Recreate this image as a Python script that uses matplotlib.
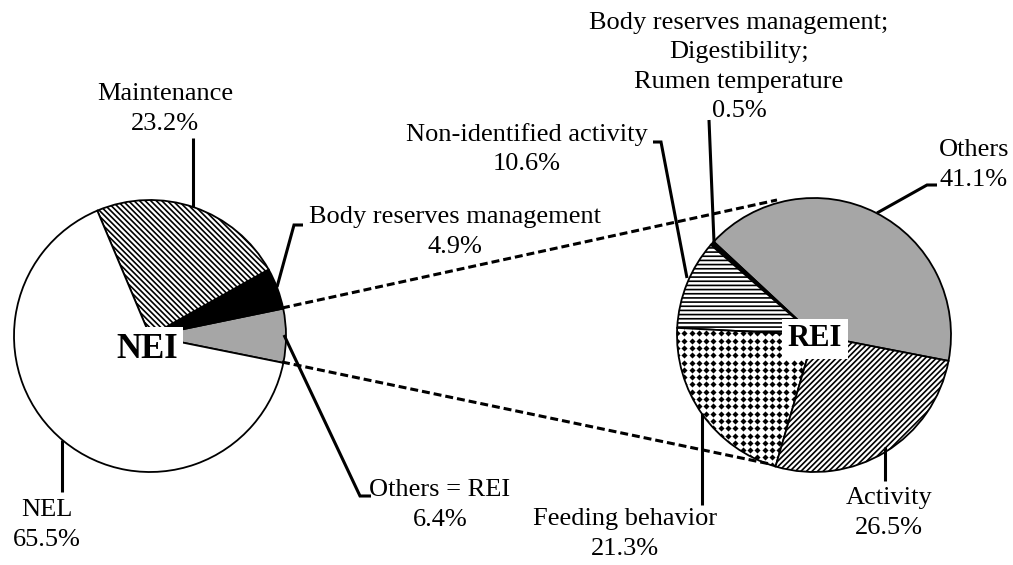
import numpy as np
import matplotlib
matplotlib.use("Agg")
import matplotlib.pyplot as plt

plt.rcParams['font.family'] = ['Liberation Serif', 'DejaVu Serif']
plt.rcParams['hatch.linewidth'] = 1.2

# ---- data -------------------------------------------------------------
nei_labels = ["Others = REI", "Body reserves management", "Maintenance", "NEL"]
nei_values = [6.4, 4.9, 23.2, 65.5]

rei_labels = ["Others",
              "Body reserves management;\nDigestibility;\nRumen temperature",
              "Non-identified activity", "Feeding behavior", "Activity"]
rei_values = [41.1, 0.5, 10.6, 21.3, 26.5]

# ---- styles -----------------------------------------------------------
GREY = '#a6a6a6'
nei_face = [GREY, 'black', 'white', 'white']
nei_hatch = [None, None, '\\' * 6, None]
rei_face = [GREY, 'black', 'white', 'white', 'white']
rei_hatch = [None, None, '----', None, '//////']

W, H = 1013, 565
fig = plt.figure(figsize=(W / 100, H / 100), dpi=100)
ax = fig.add_axes([0, 0, 1, 1])


def P(x, y):
    """Canvas position measured from the top-left corner."""
    return (x, H - y)


left_c, left_r = P(150, 336), 136
right_c, right_r = P(814, 335), 137

wedge_kw = dict(edgecolor='black', linewidth=1.3)
wl, _ = ax.pie(nei_values, center=left_c, radius=left_r, startangle=-11.4,
               counterclock=True, frame=True, wedgeprops=wedge_kw)
wr, _ = ax.pie(rei_values, center=right_c, radius=right_r, startangle=-10.9,
               counterclock=True, frame=True, wedgeprops=wedge_kw)

for w, fc, h in zip(wl, nei_face, nei_hatch):
    w.set_facecolor(fc)
    if h:
        w.set_hatch(h)
for w, fc, h in zip(wr, rei_face, rei_hatch):
    w.set_facecolor(fc)
    if h:
        w.set_hatch(h)

# diamond-dot texture for the feeding behaviour wedge
feed = wr[3]
cx, cy = right_c
step = 7.3
gx, gy = np.meshgrid(np.arange(cx - right_r, cx + right_r, step),
                     np.arange(cy - right_r, cy + right_r, step))
dots, = ax.plot(gx.ravel(), gy.ravel(), 'D', ms=3.1, color='black', mew=0,
                zorder=1.5)
dots.set_clip_path(feed)

# ---- connecting dashed lines -------------------------------------------
dash_kw = dict(color='black', lw=2.2, linestyle=(0, (2.6, 1.3)), zorder=3)
for (x0, y0), (x1, y1) in [((282, 308), (777, 200)), ((282, 362), (770, 464))]:
    a, b = P(x0, y0), P(x1, y1)
    ax.plot([a[0], b[0]], [a[1], b[1]], **dash_kw)

# ---- leader lines --------------------------------------------------------
leaders = [
    [(193, 138), (193, 207)],
    [(303, 225), (294, 225), (277, 287)],
    [(284, 335), (360, 496), (371, 496)],
    [(62, 440), (62, 492)],
    [(653, 142), (661, 142), (687, 278)],
    [(709, 120), (714, 242)],
    [(877, 213), (927, 185), (937, 185)],
    [(885, 447), (885, 481)],
    [(702, 413), (702, 505)],
]
for pts in leaders:
    xy = np.array([P(x, y) for x, y in pts])
    ax.plot(xy[:, 0], xy[:, 1], color='black', lw=2.2, solid_capstyle='butt',
            solid_joinstyle='miter', zorder=4)

# ---- labels --------------------------------------------------------------
lab_kw = dict(fontsize=19, ha='center', va='center', multialignment='center',
              linespacing=1.42, zorder=5)


def pct(v):
    return f"{v:.1f}%"


nei_pos = [(440, 505), (455, 232), (165, 109), (47, 525)]
for name, v, (x, y) in zip(nei_labels, nei_values, nei_pos):
    ax.text(*P(x, y), f"{name}\n{pct(v)}", **lab_kw)

rei_pos = [(974, 165), (739, 67), (527, 149), (625, 534), (889, 513)]
for name, v, (x, y) in zip(rei_labels, rei_values, rei_pos):
    ax.text(*P(x, y), f"{name}\n{pct(v)}", **lab_kw)

box = dict(facecolor='white', edgecolor='none', pad=4)
ax.text(*P(147, 349), "NEI", fontsize=25, fontweight='bold', ha='center',
        va='center', bbox=box, zorder=6)
ax.text(*P(815, 339), "REI", fontsize=22, fontweight='bold', ha='center',
        va='center', bbox=box, zorder=6)

ax.set_xlim(0, W)
ax.set_ylim(0, H)
ax.set_aspect('equal')
ax.set_axis_off()

fig.savefig("out.png", dpi=100, facecolor='white')
